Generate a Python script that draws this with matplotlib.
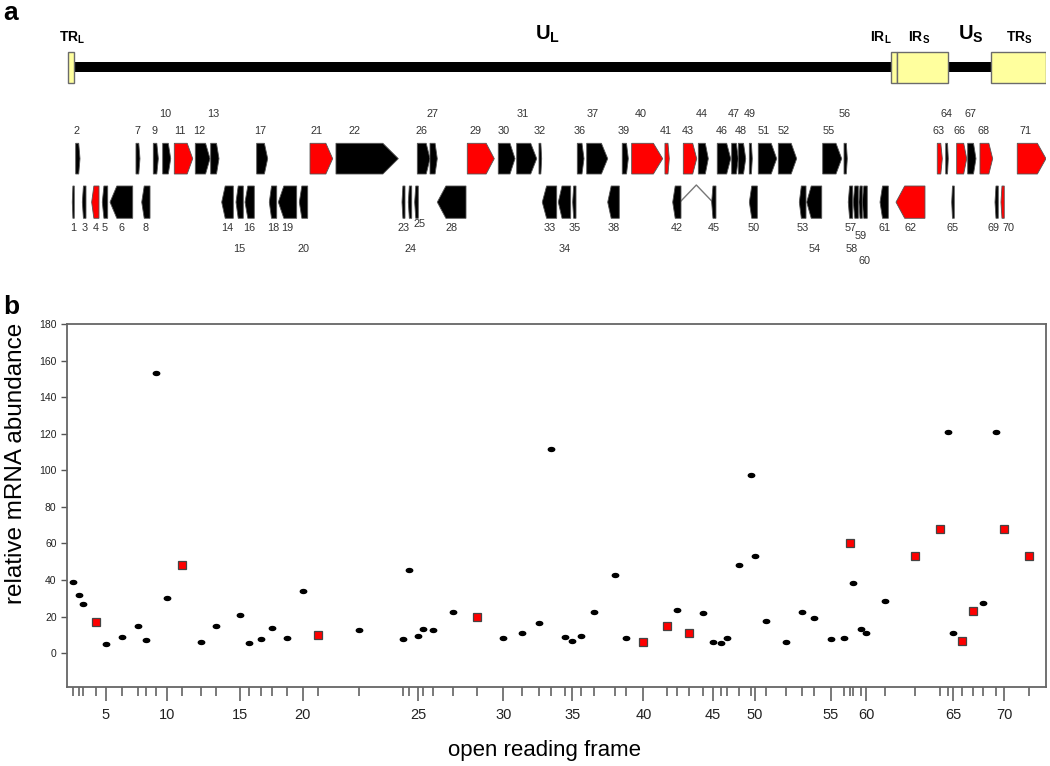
import numpy as np
import matplotlib
matplotlib.use("Agg")
import matplotlib.pyplot as plt
from matplotlib.patches import Polygon, Rectangle
from matplotlib.path import Path

# ---------------------------------------------------------------------------
# data
# genome length (kb) and repeat / unique regions of the map in panel a
genome_kb = 152.0
region_names = ["TR$_\\mathbf{L}$", "U$_\\mathbf{L}$", "IR$_\\mathbf{L}$",
                "IR$_\\mathbf{S}$", "U$_\\mathbf{S}$", "TR$_\\mathbf{S}$"]
region_start = [0.08, 1.01, 127.93, 128.86, 136.78, 143.46]
region_end = [1.01, 127.93, 128.86, 136.78, 143.46, 152.0]
region_is_repeat = [True, False, True, True, False, True]
region_label_kb = [0.75, 74.6, 126.3, 132.3, 140.3, 147.8]

# ORF map, ORF 1..71 (kb), strand +1 = upper row, -1 = lower row
gene_start = [0.82, 1.35, 2.38, 3.83, 5.48, 6.68, 10.71, 11.60, 13.40, 14.86,
              16.66, 19.92, 22.31, 24.02, 26.24, 27.64, 29.45, 31.41, 32.81, 36.07,
              37.73, 41.76, 52.01, 52.99, 53.98, 54.39, 56.36, 57.49, 62.15, 66.96,
              69.82, 73.28, 73.79, 76.28, 78.51, 79.23, 80.69, 83.95, 86.21, 87.67,
              92.84, 94.04, 95.69, 98.02, 100.09, 100.96, 103.20, 104.23, 105.94, 105.94,
              107.33, 110.44, 113.70, 114.85, 117.33, 120.64, 121.30, 122.08, 122.96, 123.48,
              126.23, 128.71, 135.12, 136.43, 137.36, 138.13, 139.84, 141.75, 144.08, 145.01,
              147.54]
gene_end = [1.13, 2.02, 2.95, 4.97, 6.32, 10.20, 11.33, 12.89, 14.18, 16.10,
            19.52, 22.20, 23.60, 25.82, 27.37, 29.08, 31.16, 32.56, 35.66, 37.37,
            41.25, 51.44, 52.48, 53.52, 54.54, 56.36, 57.49, 61.95, 66.34, 69.56,
            72.93, 73.70, 76.03, 78.20, 79.03, 80.27, 83.95, 85.75, 87.15, 92.49,
            93.51, 95.33, 97.77, 99.57, 100.76, 103.05, 104.23, 105.38, 106.40, 107.18,
            110.19, 113.29, 114.74, 117.18, 120.28, 121.15, 121.99, 122.86, 123.48, 124.25,
            127.52, 133.21, 135.90, 136.83, 137.76, 139.69, 141.13, 143.72, 144.59, 145.52,
            152.0]
gene_strand = [-1, 1, -1, -1, -1, -1, 1, -1, 1, 1,
               1, 1, 1, -1, -1, -1, 1, -1, -1, -1,
               1, 1, -1, -1, -1, 1, 1, -1, 1, 1,
               1, 1, -1, -1, -1, 1, 1, -1, 1, 1,
               1, -1, 1, 1, -1, 1, 1, 1, 1, -1,
               1, 1, -1, -1, 1, 1, -1, -1, -1, -1,
               -1, -1, 1, 1, -1, 1, 1, 1, -1, -1,
               1]
map_red_orfs = [4, 11, 21, 29, 40, 41, 43, 62, 63, 66, 68, 70, 71]
label_level = {10: 2, 13: 2, 27: 2, 31: 2, 37: 2, 40: 2, 44: 2, 47: 2, 49: 2,
               56: 2, 64: 2, 67: 2, 15: 2, 20: 2, 24: 2, 34: 2, 54: 2, 58: 2,
               25: 0.8, 59: 1.4, 60: 2.55}
label_shift_kb = {25: 0.5, 58: -0.7, 69: -0.5, 70: 0.9}
spliced_pair = (42, 45)

# panel b: ORF position (kb) and relative mRNA abundance (ORF 14 not measured)
orf_pos_kb = [0.98, 1.91, 2.53, 4.46, 6.01, 8.49, 10.98, 12.27, 13.82, 15.48,
              17.81, 20.80, 23.09, np.nan, 26.86, 28.30, 30.12, 31.87, 34.11, 36.59,
              38.92, 45.34, 52.21, 53.15, 54.54, 55.23, 56.87, 59.98, 63.70, 67.74,
              70.69, 73.28, 75.10, 77.32, 78.45, 79.76, 81.82, 85.08, 86.74, 89.48,
              93.11, 94.76, 96.57, 98.79, 100.25, 101.49, 102.52, 104.33, 106.14, 106.79,
              108.48, 111.63, 114.16, 116.03, 118.62, 120.68, 121.60, 122.08, 123.23, 124.05,
              127.00, 131.72, 135.57, 136.74, 137.61, 138.91, 140.71, 142.27, 144.29, 145.50,
              149.36]
abundance = [39, 32, 27, 17, 5, 9, 15, 7, 153, 30,
             48, 6, 15, np.nan, 21, 5.3, 7.7, 14, 8.4, 34,
             10, 12.6, 7.7, 45.6, 9.5, 13, 12.6, 22.6, 20, 8.4,
             10.8, 16.6, 111.5, 8.9, 6.6, 9.5, 22.4, 42.7, 8.4, 6.2,
             15.1, 23.5, 10.8, 21.7, 6.0, 5.3, 8.4, 48, 97.4, 53.2,
             17.7, 6.0, 22.4, 19.5, 7.7, 8.2, 60.5, 38.5, 13, 11.3,
             28.8, 53.4, 67.7, 121, 10.8, 6.4, 23.3, 27.2, 121, 67.7,
             53.4]
abundance_red_orfs = [4, 11, 21, 29, 40, 41, 43, 57, 62, 63, 66, 67, 70, 71]

# ---------------------------------------------------------------------------
plt.rcParams["font.family"] = "Liberation Sans"
plt.rcParams["mathtext.fontset"] = "custom"
plt.rcParams["mathtext.rm"] = "Liberation Sans"
plt.rcParams["mathtext.bf"] = "Liberation Sans:bold"

W, H = 1050, 766
fig = plt.figure(figsize=(W / 100, H / 100), dpi=100)
left, right = 67 / W, 1046 / W
map_ax = fig.add_axes([left, 1 - 270 / H, right - left, 245 / H])
ax = fig.add_axes([left, 1 - 687 / H, right - left, 363 / H])

# ---------------------------------------------------------------- panel a
map_ax.set_xlim(0, genome_kb)
map_ax.set_ylim(270, 25)  # y in figure pixel rows, top down
map_ax.axis("off")

bar_y0, bar_y1 = 61.5, 71.5
box_y0, box_y1 = 51.5, 82.5
for name, s, e, rep, lx in zip(region_names, region_start, region_end,
                               region_is_repeat, region_label_kb):
    if rep:
        map_ax.add_patch(Rectangle((s, box_y0), e - s, box_y1 - box_y0,
                                   facecolor="#ffff9e", edgecolor="#6b6b6b",
                                   linewidth=1.0, zorder=3))
        map_ax.text(lx, 42, name, ha="center", va="baseline",
                    fontsize=10, fontweight="bold")
    else:
        map_ax.add_patch(Rectangle((s, bar_y0), e - s, bar_y1 - bar_y0,
                                   facecolor="black", edgecolor="none", zorder=2))
        map_ax.text(lx, 40, name, ha="center", va="baseline",
                    fontsize=14.5, fontweight="bold")

row_y = {1: (143.3, 174.0), -1: (186.0, 218.3)}
for i, (s, e, st) in enumerate(zip(gene_start, gene_end, gene_strand)):
    orf = i + 1
    y0, y1 = row_y[st]
    ym = (y0 + y1) / 2
    tip = min(0.3 * (e - s), 2.4)
    if st == 1:
        verts = [(s, y0), (e - tip, y0), (e, ym), (e - tip, y1), (s, y1)]
    else:
        verts = [(e, y0), (s + tip, y0), (s, ym), (s + tip, y1), (e, y1)]
    color = "#ff0000" if orf in map_red_orfs else "black"
    map_ax.add_patch(Polygon(verts, closed=True, facecolor=color,
                             edgecolor="#555555", linewidth=0.6, zorder=3))
    lev = label_level.get(orf, 1)
    if st == 1:
        lx = s + 0.3 * (e - s)
        ly = 131 - (lev - 1) * 17
    else:
        lx = (s + e) / 2
        ly = 228 + (lev - 1) * 21
    lx += label_shift_kb.get(orf, 0)
    map_ax.text(lx, ly, str(orf), ha="center", va="center",
                fontsize=7.8, color="#333333")

# splice connector between the two exons
a, b = spliced_pair
x_a, x_b = gene_end[a - 1], gene_start[b - 1]
map_ax.plot([x_a, (x_a + x_b) / 2, x_b], [201, 185, 201],
            color="#777777", linewidth=1.0, zorder=2)

# ---------------------------------------------------------------- panel b
orf = np.arange(1, 72)
pos = np.array(orf_pos_kb, dtype=float)
val = np.array(abundance, dtype=float)
valid = ~np.isnan(val)
is_red = np.isin(orf, abundance_red_orfs)

theta = np.linspace(0, 2 * np.pi, 40)
ellipse = Path(np.column_stack([np.cos(theta), 0.62 * np.sin(theta)]), closed=True)

black = valid & ~is_red
red = valid & is_red
ax.plot(pos[black], val[black], linestyle="none", marker=ellipse,
        markersize=4.6, color="black", zorder=3)
ax.plot(pos[red], val[red], linestyle="none", marker="s", markersize=6.2,
        markerfacecolor="#ff0000", markeredgecolor="#444444",
        markeredgewidth=0.9, zorder=4)

ax.set_xlim(0, genome_kb)
ax.set_ylim(-18.5, 180)

major = valid & (orf % 5 == 0)
minor = valid & (orf % 5 != 0)
ax.set_xticks(pos[major])
ax.set_xticklabels([str(n) for n in orf[major]])
ax.set_xticks(pos[minor], minor=True)
ax.set_yticks(np.arange(0, 181, 20))

ax.tick_params(axis="x", which="major", direction="out", length=10, width=1.1,
               color="#555555", pad=5, labelsize=10.5, labelcolor="#222222")
ax.tick_params(axis="x", which="minor", direction="out", length=6.5, width=1.1,
               color="#555555")
ax.tick_params(axis="y", direction="out", length=4.5, width=1.0,
               color="#555555", pad=3, labelsize=7.5, labelcolor="#222222")
for sp in ax.spines.values():
    sp.set_color("#666666")
    sp.set_linewidth(1.3)

ax.set_ylabel("relative mRNA abundance", fontsize=17.5, va="center", ha="center")
ax.yaxis.set_label_coords(-0.052, 0.615)
ax.set_xlabel("open reading frame", fontsize=16, va="center", ha="center")
ax.xaxis.set_label_coords(0.488, -0.174)

fig.text(3 / W, 1 - 20 / H, "a", fontsize=19, fontweight="bold", va="baseline")
fig.text(3 / W, 1 - 314 / H, "b", fontsize=19, fontweight="bold", va="baseline")

fig.savefig("out.png", dpi=100)
